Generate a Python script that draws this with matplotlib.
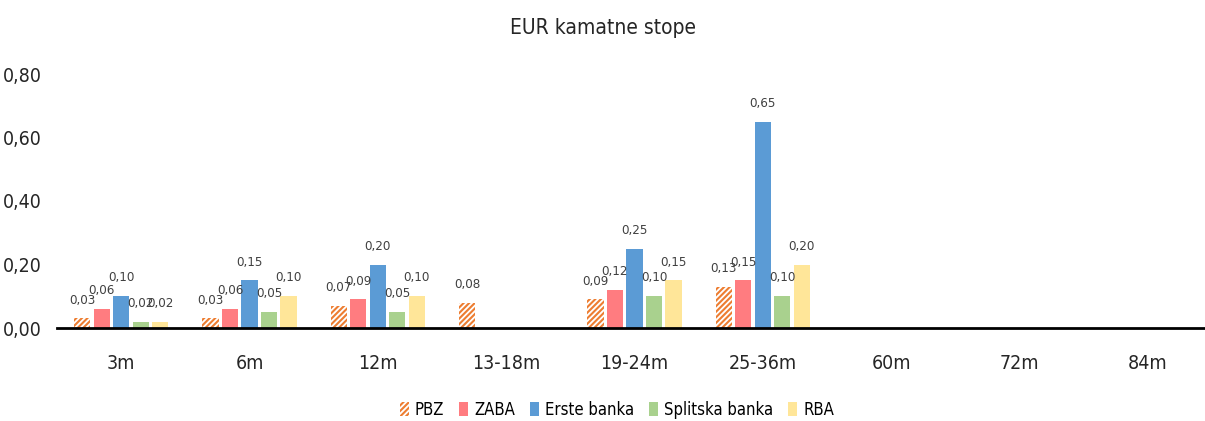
import numpy as np
import matplotlib
matplotlib.use("Agg")
import matplotlib.pyplot as plt

plt.rcParams['font.family'] = ['DejaVu Sans']
plt.rcParams['font.stretch'] = 'condensed'
plt.rcParams['hatch.linewidth'] = 1.5

categories = ["3m", "6m", "12m", "13-18m", "19-24m", "25-36m", "60m", "72m", "84m"]
banks = ["PBZ", "ZABA", "Erste banka", "Splitska banka", "RBA"]
nan = np.nan
pbz = [0.03, 0.03, 0.07, 0.08, 0.09, 0.13, nan, nan, nan]
zaba = [0.06, 0.06, 0.09, nan, 0.12, 0.15, nan, nan, nan]
erste = [0.10, 0.15, 0.20, nan, 0.25, 0.65, nan, nan, nan]
splitska = [0.02, 0.05, 0.05, nan, 0.10, 0.10, nan, nan, nan]
rba = [0.02, 0.10, 0.10, nan, 0.15, 0.20, nan, nan, nan]
series = [pbz, zaba, erste, splitska, rba]
colors = ["#ED7D31", "#FF7C80", "#5B9BD5", "#A9D18E", "#FFE699"]

fig = plt.figure(figsize=(12.05, 4.21), dpi=100)
ax = fig.add_axes([57 / 1205, 1 - 328 / 421, (1212 - 57) / 1205, (328 - 74) / 421])

x = np.arange(len(categories))
pitch = 0.152
width = 0.125
for i, (name, vals, col) in enumerate(zip(banks, series, colors)):
    pos = x + (i - 2) * pitch
    vals = np.array(vals, dtype=float)
    if name == "PBZ":
        bars = ax.bar(pos, vals, width, facecolor="white", edgecolor=col,
                      hatch="//////", linewidth=0, label=name)
    else:
        bars = ax.bar(pos, vals, width, color=col, label=name)
    labels = ["" if np.isnan(v) else f"{v:.2f}".replace(".", ",") for v in vals]
    ax.bar_label(bars, labels=labels, padding=8.5, fontsize=9.5, color="#404040")

ax.set_xlim(-0.5, 8.5)
ax.set_ylim(0, 0.8)
ax.set_yticks([0, 0.2, 0.4, 0.6, 0.8])
ax.set_yticklabels(["0,00", "0,20", "0,40", "0,60", "0,80"])
ax.set_xticks(x)
ax.set_xticklabels(categories)
ax.tick_params(axis="both", length=0, labelsize=14, colors="#262626")
ax.tick_params(axis="x", pad=19)
ax.tick_params(axis="y", pad=11)
for s in ["top", "right", "left"]:
    ax.spines[s].set_visible(False)
ax.spines["bottom"].set_linewidth(2)
ax.spines["bottom"].set_color("black")

fig.text(0.5, 0.933, "EUR kamatne stope", ha="center", va="center",
         fontsize=15, color="#262626")

fig.legend(loc="center", bbox_to_anchor=(0.512, 0.027), ncol=5, frameon=False,
           fontsize=12, handlelength=0.55, handleheight=0.9, handletextpad=0.35,
           columnspacing=0.9)

fig.savefig("out.png", dpi=100)
